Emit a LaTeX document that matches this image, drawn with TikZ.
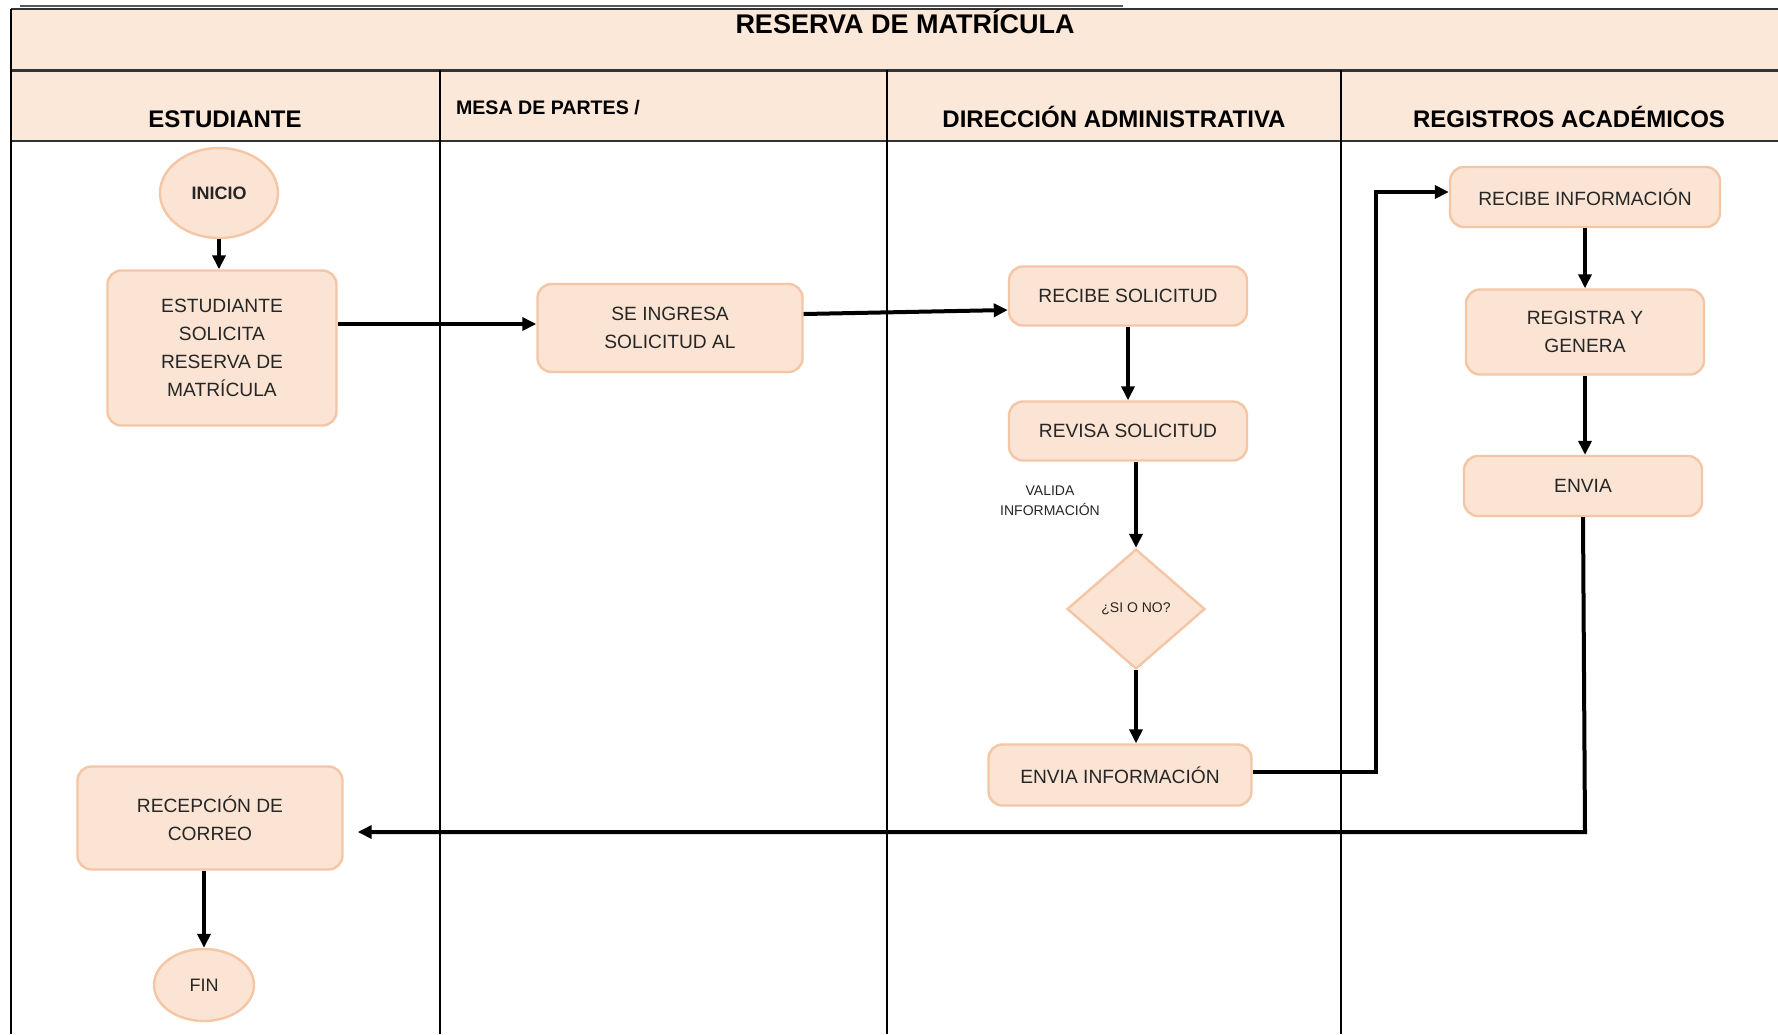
\documentclass[tikz,border=0pt]{standalone}
\usepackage{fontspec}
\setmainfont{Liberation Sans}
\newfontfamily\nfont{Liberation Sans}
\usetikzlibrary{shapes.geometric,arrows.meta}
\definecolor{headfill}{HTML}{FCE8D9}
\definecolor{boxfill}{HTML}{FBE4D3}
\definecolor{boxdraw}{HTML}{F4C6A6}
\tikzset{
  stepbox/.style={draw=boxdraw, fill=boxfill, line width=1.2pt, rounded corners=7pt, align=center,
    inner sep=0pt, text=black!85, font=\nfont\fontsize{9.6}{14}\selectfont},
  termnode/.style={draw=boxdraw, fill=boxfill, line width=1.2pt, ellipse, inner sep=0pt, text=black!85,
    font=\nfont\fontsize{9}{11}\selectfont},
  decnode/.style={draw=boxdraw, fill=boxfill, line width=1.2pt, diamond, inner sep=0pt, aspect=1.15,
    text=black!85, font=\nfont\fontsize{7}{8}\selectfont},
  arr/.style={line width=2pt, -{Triangle[length=7pt,width=6.5pt]}},
  lane/.style={line width=0.7pt, black},
  headtxt/.style={anchor=base, font=\nfont\bfseries\fontsize{12}{14}\selectfont}
}
\begin{document}
\begin{tikzpicture}[x=0.5pt,y=-0.5pt]
\useasboundingbox (0,0) rectangle (1778,1034);
\clip (0,0) rectangle (1778,1034);
% frame
\fill[white] (0,0) rectangle (1778,1034);
\draw[gray!70!black, line width=1pt] (20,6) -- (1123,6);
\fill[headfill] (11,9) rectangle (1790,141);
\draw[black!80, line width=1pt] (11,9) -- (1790,9);
\draw[black!80, line width=1.5pt] (11,70) -- (1790,70);
\draw[black!80, line width=1.2pt] (11,141) -- (1790,141);
\draw[lane] (11,9) -- (11,1034);
\draw[lane] (440,70) -- (440,1034);
\draw[lane] (887,70) -- (887,1034);
\draw[lane] (1341,70) -- (1341,1034);
% titles
\node[anchor=base, font=\nfont\bfseries\fontsize{13.5}{15}\selectfont] (title) at (905,33) {RESERVA DE MATRÍCULA};
\node[headtxt] (h1) at (225,127) {ESTUDIANTE};
\node[font=\nfont\bfseries\fontsize{9.8}{11}\selectfont, anchor=base west] (h2) at (449,114) {MESA DE PARTES /};
\node[headtxt] (h3) at (1114,127) {DIRECCIÓN ADMINISTRATIVA};
\node[headtxt] (h4) at (1569,127) {REGISTROS ACADÉMICOS};
% nodes
\node[termnode, font=\nfont\bfseries\fontsize{9}{11}\selectfont, minimum width=59pt, minimum height=45pt] (inicio) at (219,193) {INICIO};
\node[stepbox, minimum width=114.5pt, minimum height=77.5pt] (est) at (222,348) {ESTUDIANTE\\SOLICITA\\RESERVA DE\\MATRÍCULA};
\node[stepbox, minimum width=132.5pt, minimum height=44pt] (ing) at (670,328) {SE INGRESA\\SOLICITUD AL};
\node[stepbox, minimum width=119pt, minimum height=29.5pt] (rsol) at (1128,296) {RECIBE SOLICITUD};
\node[stepbox, minimum width=119pt, minimum height=29.5pt] (rev) at (1128,431) {REVISA SOLICITUD};
\node[font=\nfont\fontsize{7}{10}\selectfont, align=center, text=black!85] (val) at (1050,501) {VALIDA\\INFORMACIÓN};
\node[decnode, minimum width=69pt, minimum height=60pt] (dia) at (1136,609) {¿SI O NO?};
\node[stepbox, minimum width=131.5pt, minimum height=30.5pt] (envi) at (1120,775) {ENVIA INFORMACIÓN};
\node[stepbox, minimum width=135pt, minimum height=30pt] (rinf) at (1585,197) {RECIBE INFORMACIÓN};
\node[stepbox, minimum width=119pt, minimum height=42.5pt] (reg) at (1585,332) {REGISTRA Y\\GENERA};
\node[stepbox, minimum width=119pt, minimum height=30pt] (env) at (1583,486) {ENVIA};
\node[stepbox, minimum width=132.5pt, minimum height=51.5pt] (rec) at (210,818) {RECEPCIÓN DE\\CORREO};
\node[termnode, minimum width=50pt, minimum height=36pt] (fin) at (204,985) {FIN};
% connectors
\coordinate (k1) at (1376,500);
\coordinate (k3) at (1585,832);
\draw[arr] (inicio) -- (inicio |- est.north);
\draw[arr] ([yshift=2pt]est.east |- ing.west) -- ([yshift=2pt]ing.west);
\draw[arr] ([yshift=7pt]ing.east) -- ([yshift=-7pt]rsol.west);
\draw[arr] (rsol) -- (rsol |- rev.north);
\draw[arr] (dia.north |- rev.south) -- (dia.north);
\draw[arr] (dia.south) -- (dia.south |- envi.north);
\draw[arr] ([yshift=1.5pt]envi.east) -| (k1) |- ([yshift=2.5pt]rinf.west);
\draw[arr] (rinf.south) -- (reg.north);
\draw[arr] (reg.south) -- (reg.south |- env.north);
\draw[arr, shorten >=7pt] (env.south) -- (k3) -- (k3 -| rec.east);
\draw[arr] (rec.south -| fin.north) -- (fin.north);
\end{tikzpicture}
\end{document}
